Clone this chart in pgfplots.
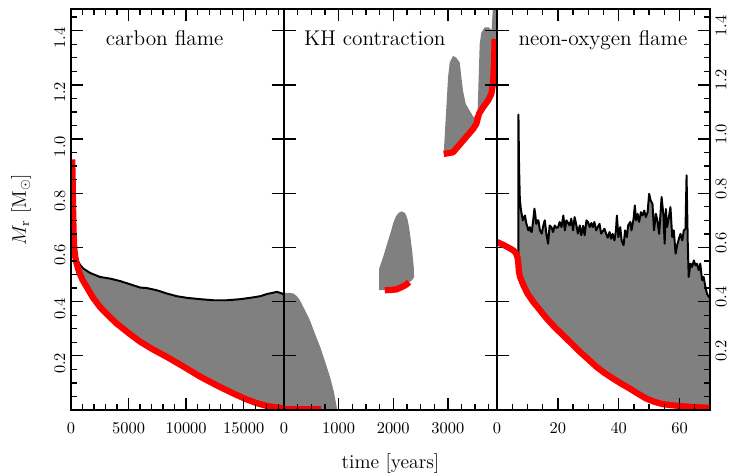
\documentclass[border=0pt]{standalone}
\usepackage{pgfplots}
\usepackage{pgfplotstable}
\pgfplotsset{compat=1.18}
\usepgfplotslibrary{fillbetween}

\pgfplotstableread{
t M
435 0.575
600 0.55
800 0.535
1070 0.522
1650 0.506
2520 0.491
3390 0.485
4260 0.476
5420 0.46
6000 0.452
6580 0.45
7450 0.442
8320 0.43
9190 0.42
10060 0.414
11220 0.409
12380 0.405
13540 0.405
14700 0.409
15570 0.414
16440 0.42
17020 0.428
17890 0.436
18320 0.43
18500 0.425
}\blackA

\pgfplotstableread{
t M
100 0.925
140 0.86
180 0.75
220 0.66
280 0.60
350 0.57
490 0.54
700 0.51
1000 0.48
1365 0.454
1900 0.415
2520 0.38
3200 0.35
3970 0.319
5000 0.284
6000 0.252
7100 0.224
8320 0.196
9700 0.162
11220 0.123
12700 0.09
14100 0.061
15200 0.040
16150 0.025
17000 0.015
17900 0.009
18500 0.006
}\redA

\pgfplotstableread{
t M
7.00 0.55
7.05 1.09
7.25 0.90
7.5 0.78
7.8 0.745
8.1 0.724
8.5 0.70
8.9 0.71
9.2 0.718
9.6 0.69
10.0 0.675
10.3 0.663
10.8 0.675
11.1 0.66
11.4 0.657
11.9 0.70
12.3 0.743
12.6 0.72
12.9 0.687
13.3 0.70
13.6 0.70
14.1 0.663
14.7 0.651
15.2 0.68
15.7 0.70
16.3 0.645
16.8 0.614
17.3 0.681
17.9 0.675
18.4 0.657
19.0 0.681
19.5 0.672
20.1 0.675
20.6 0.694
21.2 0.675
21.8 0.718
22.3 0.663
22.8 0.70
23.4 0.69
23.9 0.681
24.4 0.706
25.0 0.663
25.5 0.712
26.0 0.687
26.6 0.651
27.2 0.681
27.7 0.645
28.3 0.68
28.8 0.645
29.4 0.70
29.9 0.694
30.5 0.675
31.0 0.69
31.5 0.675
32.0 0.694
32.6 0.663
33.1 0.675
33.7 0.687
34.2 0.651
34.8 0.66
35.3 0.669
35.9 0.65
36.4 0.636
37.0 0.657
37.5 0.632
38.0 0.65
38.6 0.626
39.1 0.663
39.4 0.718
39.9 0.638
40.5 0.675
40.96 0.626
41.6 0.608
42.1 0.663
42.7 0.638
43.1 0.681
43.8 0.694
44.2 0.663
44.9 0.706
45.3 0.755
45.7 0.70
46.2 0.724
46.7 0.694
47.3 0.730
47.8 0.718
48.4 0.736
48.9 0.712
49.5 0.730
50.0 0.798
50.5 0.773
51.1 0.761
51.6 0.663
52.2 0.724
52.7 0.70
53.3 0.65
53.8 0.736
54.1 0.786
54.7 0.718
55.1 0.614
55.5 0.742
55.9 0.675
56.5 0.712
57.0 0.749
57.6 0.638
58.1 0.663
58.7 0.577
59.2 0.608
59.8 0.632
60.3 0.65
60.9 0.626
61.4 0.663
61.95 0.669
62.3 0.866
62.7 0.614
63.0 0.491
63.6 0.54
64.1 0.528
64.7 0.552
65.2 0.534
65.7 0.540
66.3 0.516
66.8 0.540
67.4 0.479
67.9 0.491
68.5 0.454
69.0 0.43
69.6 0.417
70.0 0.42
}\blackC

\pgfplotstableread{
t M
0 0.62
2 0.61
4.3 0.596
5.5 0.588
6.3 0.578
6.8 0.56
7.0 0.54
7.2 0.51
7.6 0.49
8.7 0.46
10 0.43
11.9 0.399
14 0.37
16.3 0.338
19 0.305
21.7 0.276
24.5 0.245
27.2 0.215
30 0.187
32.6 0.16
35.3 0.137
38.0 0.117
40.7 0.098
43.5 0.08
46.2 0.061
48.9 0.043
51.5 0.031
54.3 0.022
57 0.018
59.8 0.015
64 0.011
70 0.008
}\redC

\begin{document}
\begin{tikzpicture}
\pgfplotsset{
  panel/.style={
    scale only axis, width=129.88pt, height=244.51pt,
    ymin=0, ymax=1.48,
    axis on top,
    axis line style={line width=1.2pt},
    every tick/.style={black, line width=0.8pt},
    major tick length=7.5pt, minor tick length=3.8pt,
    tick align=inside,
    ytick={0.2,0.4,...,1.4},
    xtick pos=both,
    scaled x ticks=false,
    /pgf/number format/set thousands separator={},
    yticklabel style={rotate=90, /pgf/number format/fixed, /pgf/number format/precision=1, /pgf/number format/fixed zerofill},
    xticklabel style={yshift=-4.6pt},
  },
  redline/.style={red, line width=3.8pt, line join=round},
  blackline/.style={black, line width=1.2pt, line join=round},
}

% ---------- panel 1: carbon flame
\begin{axis}[panel, at={(0pt,0pt)}, anchor=south west,
  xmin=0, xmax=18500, xtick={0,5000,10000,15000}, minor xtick={1000,2000,...,18000},
  ytick pos=left, minor ytick={0.05,0.10,...,1.45},
  yticklabel style={anchor=south, xshift=-4.6pt}]
\addplot[draw=none, name path=topA] table {\blackA};
\addplot[draw=none, name path=botA] table {\redA};
\addplot[fill=gray, draw=none] fill between[of=topA and botA, soft clip={domain=435:18500}];
\addplot[blackline] table {\blackA};
\addplot[redline] table {\redA};
\node[anchor=base west, font=\fontsize{13}{15}\selectfont] at (rel axis cs:0.136,0.908) {carbon flame};
\end{axis}

% ---------- panel 2 outward ticks
\begin{axis}[panel, at={(129.88pt,0pt)}, anchor=south west,
  xmin=0, xmax=3900, xtick=\empty, ytick pos=both, tick align=outside, yticklabels={}]
\end{axis}

% ---------- panel 2: KH contraction
\begin{axis}[panel, at={(129.88pt,0pt)}, anchor=south west,
  xmin=0, xmax=3900, xtick={0,1000,2000,3000}, minor xtick={250,500,...,3750},
  ytick pos=both, yticklabels={}]
\addplot[fill=gray, draw=none] coordinates {
(0,0.432) (100,0.432) (170,0.43) (232,0.421) (292,0.405) (380,0.37) (475,0.331)
(560,0.285) (658,0.235) (750,0.18) (841,0.123) (910,0.07) (975,0.0)} \closedcycle;
\addplot[fill=gray, draw=none] coordinates {
(1743,0.442) (1743,0.522) (1816,0.565) (1907,0.626) (1960,0.66) (2000,0.69)
(2050,0.715) (2100,0.728) (2160,0.733) (2220,0.726) (2260,0.705) (2290,0.675)
(2320,0.63) (2350,0.58) (2375,0.53) (2382,0.49) (2340,0.478) (2290,0.472)
(2200,0.458) (2050,0.447) (1846,0.442)} -- cycle;
\addplot[fill=gray, draw=none] coordinates {
(2925,0.945) (2931,0.97) (2962,1.08) (3004,1.228) (3035,1.283) (3095,1.307)
(3156,1.30) (3217,1.283) (3248,1.228) (3278,1.178) (3327,1.13) (3400,1.105)
(3473,1.08) (3520,1.09) (3545,1.10) (3560,1.20) (3570,1.264) (3583,1.35)
(3613,1.393) (3674,1.412) (3753,1.412) (3800,1.40) (3815,1.45) (3826,1.49)
(3895,1.49) (3895,1.37) (3857,1.363) (3845,1.277) (3826,1.203) (3796,1.166)
(3735,1.142) (3644,1.117) (3570,1.093) (3522,1.056) (3461,1.037) (3278,0.994)
(3095,0.951) (2925,0.945)} -- cycle;
\addplot[redline] coordinates {(0,0.005) (680,0.005)};
\addplot[redline] coordinates {(1846,0.442) (1950,0.443) (2060,0.445) (2181,0.456) (2240,0.463) (2290,0.472)};
\addplot[redline] coordinates {(2925,0.945) (3095,0.951) (3278,0.994) (3461,1.037) (3522,1.056)
(3570,1.093) (3644,1.117) (3735,1.142) (3796,1.166) (3826,1.203) (3845,1.277) (3857,1.37)};
\node[anchor=base west, font=\fontsize{13}{15}\selectfont] at (rel axis cs:0.067,0.908) {KH contraction};
\end{axis}

% ---------- panel 3: neon-oxygen flame
\begin{axis}[panel, at={(259.76pt,0pt)}, anchor=south west,
  xmin=0, xmax=70, xtick={0,20,40,60}, minor xtick={5,10,...,65},
  ytick pos=right, minor ytick={0.05,0.10,...,1.45},
  yticklabel style={anchor=north, xshift=2.8pt}]
\addplot[draw=none, name path=topC] table {\blackC};
\addplot[draw=none, name path=botC] table {\redC};
\addplot[fill=gray, draw=none] fill between[of=topC and botC, soft clip={domain=7:70}];
\addplot[blackline] table {\blackC};
\addplot[redline] table {\redC};
\node[anchor=base west, font=\fontsize{13}{15}\selectfont] at (rel axis cs:0.074,0.908) {neon-oxygen flame};
\end{axis}

\node[rotate=90, font=\large] at (-30.49pt,122.26pt) {$M_\mathrm{r}$ [M$_\odot$]};
\node[anchor=base, font=\large] at (194.82pt,-35.8pt) {time [years]};

\pgfresetboundingbox
\path[use as bounding box] (-43.29pt,-38.41pt) rectangle (404.88pt,250pt);
\end{tikzpicture}
\end{document}
